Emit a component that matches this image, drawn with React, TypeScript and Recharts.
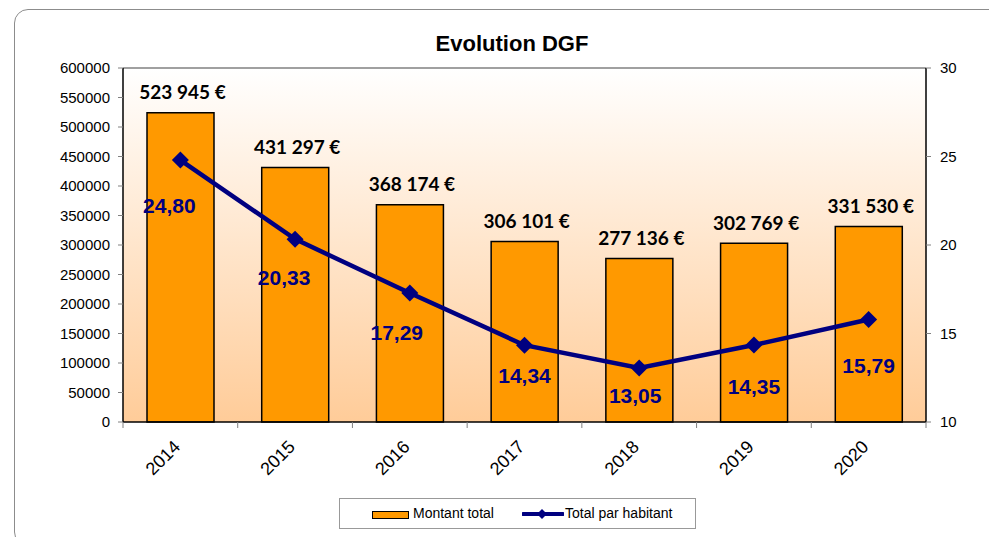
import { ComposedChart, Bar, Line, XAxis, YAxis, CartesianGrid, ReferenceLine, LabelList } from 'recharts';

const years = ['2014', '2015', '2016', '2017', '2018', '2019', '2020'];
const montantTotal = [523945, 431297, 368174, 306101, 277136, 302769, 331530];
const totalParHabitant = [24.8, 20.33, 17.29, 14.34, 13.05, 14.35, 15.79];
const leftTicks = [0, 50000, 100000, 150000, 200000, 250000, 300000, 350000, 400000, 450000, 500000, 550000, 600000];
const rightTicks = [10, 15, 20, 25, 30];

// label nudges for the per-habitant values (as moved by hand in the original)
const lineLabelDx = [-11, -11, -13, 0, -4, 0, 0];
const lineLabelDy = [45, 38, 40, 30, 27, 41, 46];

const NAVY = '#000080';
const ORANGE = '#FF9900';
const ARIAL = '"Liberation Sans", Arial, sans-serif';

const W = 989;
const H = 537;
const PLOT_LEFT = 123;
const PLOT_RIGHT = 926;
const HALF_BAND = (PLOT_RIGHT - PLOT_LEFT) / years.length / 2;

const data = years.map((year, i) => ({
    year,
    montant: montantTotal[i],
    parHab: totalParHabitant[i],
}));

const fmtEuro = (n: number) => String(n).replace(/\B(?=(\d{3})+(?!\d))/g, ' ') + ' €';
const fmtDec = (n: number) => n.toFixed(2).replace('.', ',');

const XTick = (props: any) => {
    const { x, y, payload, index } = props;
    const tx = x + 1;
    const ty = y + 26;
    return (
        <g>
            <line x1={x - HALF_BAND} x2={x - HALF_BAND} y1={y} y2={y + 6} stroke="#808080" />
            {index === years.length - 1 && (
                <line x1={x + HALF_BAND} x2={x + HALF_BAND} y1={y} y2={y + 6} stroke="#808080" />
            )}
            <text x={tx} y={ty} textAnchor="end" fontSize={18} fontFamily={ARIAL} fill="#000"
                transform={`rotate(-45, ${tx}, ${ty})`}>
                {payload.value}
            </text>
        </g>
    );
};

const Diamond = (props: any) => {
    const { cx, cy, index } = props;
    const r = 8.5;
    return (
        <path key={`dia-${index}`} d={`M${cx},${cy - r}L${cx + r},${cy}L${cx},${cy + r}L${cx - r},${cy}Z`} fill={NAVY} />
    );
};

const BarLabel = (props: any) => {
    const { x, y, width, value } = props;
    return (
        <text x={x + width / 2 + 2} y={y - 21} textAnchor="middle" dominantBaseline="central"
            fontSize={19} fontWeight={700} fontFamily="Lato, sans-serif" fill="#000">
            {fmtEuro(value)}
        </text>
    );
};

const LineLabel = (props: any) => {
    const { x, y, value, index } = props;
    return (
        <text x={x + lineLabelDx[index]} y={y + lineLabelDy[index]} textAnchor="middle" dominantBaseline="central"
            fontSize={21} fontWeight={700} fontFamily={ARIAL} fill={NAVY}>
            {fmtDec(value)}
        </text>
    );
};

export default function App() {
    return (
        <div style={{ position: 'absolute', left: 0, top: 0, width: W, height: H, background: '#fff', overflow: 'hidden' }}>
            <div style={{
                position: 'absolute', left: 14, top: 9, width: 990, height: 535,
                border: '1px solid #8c8c8c', borderRadius: 14,
            }} />
            <div style={{
                position: 'absolute', left: 0, top: 31, width: 1024, textAlign: 'center',
                fontFamily: ARIAL, fontWeight: 700, fontSize: 22, color: '#000',
            }}>
                Evolution DGF
            </div>
            <div style={{ position: 'absolute', left: 0, top: 0 }}>
                <ComposedChart width={W} height={H} data={data} margin={{ top: 68, right: 0, bottom: 0, left: 0 }}
                    barCategoryGap={0}>
                    <defs>
                        <linearGradient id="bgGrad" x1="0" y1="0" x2="0" y2="1">
                            <stop offset="0%" stopColor="#FFFFFF" />
                            <stop offset="100%" stopColor="#FFCC99" />
                        </linearGradient>
                    </defs>
                    <CartesianGrid yAxisId="left" horizontal={false} vertical={false} fill="url(#bgGrad)" />
                    <XAxis dataKey="year" height={115} tickSize={0} tickMargin={0} interval={0}
                        axisLine={{ stroke: '#000', strokeWidth: 1.5 }} tickLine={false} tick={<XTick />} />
                    <YAxis yAxisId="left" width={PLOT_LEFT} domain={[0, 600000]} ticks={leftTicks} interval={0}
                        tickSize={5} tickMargin={8} axisLine={{ stroke: '#000', strokeWidth: 1.5 }}
                        tickLine={{ stroke: '#808080' }}
                        tick={{ fontSize: 15, fontFamily: ARIAL, fill: '#000' }} />
                    <YAxis yAxisId="right" orientation="right" width={W - PLOT_RIGHT} domain={[10, 30]} ticks={rightTicks}
                        interval={0} tickSize={5} tickMargin={9} axisLine={{ stroke: '#000', strokeWidth: 1.5 }}
                        tickLine={{ stroke: '#808080' }}
                        tick={{ fontSize: 15, fontFamily: ARIAL, fill: '#000', textAnchor: 'start' }} />
                    <ReferenceLine yAxisId="left" y={600000} stroke="#808080" strokeWidth={1.5} />
                    <Bar yAxisId="left" dataKey="montant" name="Montant total" fill={ORANGE} stroke="#000"
                        strokeWidth={1.5} barSize={67} isAnimationActive={false}>
                        <LabelList dataKey="montant" content={<BarLabel />} />
                    </Bar>
                    <Line yAxisId="right" dataKey="parHab" name="Total par habitant" stroke={NAVY} strokeWidth={4.5}
                        dot={<Diamond />} activeDot={false} isAnimationActive={false}>
                        <LabelList dataKey="parHab" content={<LineLabel />} />
                    </Line>
                </ComposedChart>
            </div>
            <div style={{
                position: 'absolute', left: 339, top: 498, width: 357, height: 31,
                border: '1px solid #999', boxSizing: 'border-box', fontFamily: ARIAL, fontSize: 14, color: '#000',
            }}>
                <div style={{
                    position: 'absolute', left: 32, top: 12, width: 37, height: 8,
                    background: ORANGE, border: '1.5px solid #000', boxSizing: 'border-box',
                }} />
                <span style={{ position: 'absolute', left: 73, top: 6 }}>Montant total</span>
                <svg style={{ position: 'absolute', left: 182, top: 7 }} width={42} height={16}>
                    <line x1={1} x2={41} y1={8} y2={8} stroke={NAVY} strokeWidth={4} strokeLinecap="round" />
                    <path d="M20,3L25,8L20,13L15,8Z" fill={NAVY} />
                </svg>
                <span style={{ position: 'absolute', left: 225, top: 6 }}>Total par habitant</span>
            </div>
        </div>
    );
}
